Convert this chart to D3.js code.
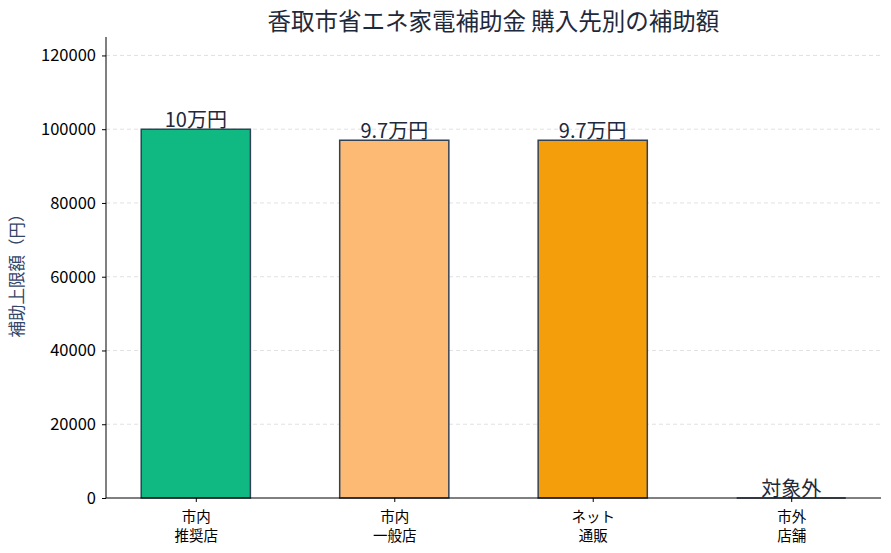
<!DOCTYPE html>
<html>
<head>
<meta charset="utf-8">
<script src="https://cdn.jsdelivr.net/npm/d3@7"></script>
<style>
  body { margin: 0; background: #fff; }
  text { font-family: "Noto Sans CJK JP", "Noto Sans", sans-serif; }
</style>
</head>
<body>
<div id="chart"></div>
<script>
// Data
const categories = [["市内", "推奨店"], ["市内", "一般店"], ["ネット", "通販"], ["市外", "店舗"]];
const amounts = [100000, 97000, 97000, 0];
const barLabels = ["10万円", "9.7万円", "9.7万円", "対象外"];
const barColors = ["#10b981", "#fdba74", "#f59e0b", "#94a3b8"];
const yTicks = [0, 20000, 40000, 60000, 80000, 100000, 120000];

const width = 891, height = 553;
const margin = {top: 37, left: 106, right: 10, bottom: 55};

const svg = d3.select("#chart").append("svg")
    .attr("width", width)
    .attr("height", height);

// scales
const barWidth = 0.55;
const pad = (categories.length - 1 + barWidth) * 0.05;
const xScale = d3.scaleLinear()
    .domain([-barWidth / 2 - pad, categories.length - 1 + barWidth / 2 + pad])
    .range([margin.left, width - margin.right]);

const yScale = d3.scaleLinear()
    .domain([0, 125000])
    .range([height - margin.bottom, margin.top]);

// grid
svg.append("g")
    .selectAll("line")
    .data(yTicks.slice(1))
    .enter().append("line")
    .attr("x1", margin.left)
    .attr("x2", width - margin.right)
    .attr("y1", d => yScale(d))
    .attr("y2", d => yScale(d))
    .attr("stroke", "#d9d9d9")
    .attr("stroke-width", 0.8)
    .attr("stroke-dasharray", "4,3");

// bars (drawn as paths so a zero bar still shows its outline)
const bw = xScale(barWidth) - xScale(0);
svg.append("g")
    .selectAll("path")
    .data(amounts)
    .enter().append("path")
    .attr("d", (d, i) => {
        const x0 = xScale(i) - bw / 2, y0 = yScale(d), y1 = yScale(0);
        return `M${x0},${y1}V${y0}H${x0 + bw}V${y1}Z`;
    })
    .attr("fill", (d, i) => barColors[i])
    .attr("stroke", "#334155")
    .attr("stroke-width", 1.5);

// bar labels
svg.append("g")
    .selectAll("text")
    .data(amounts)
    .enter().append("text")
    .attr("x", (d, i) => xScale(i))
    .attr("y", d => yScale(d) - 2)
    .attr("text-anchor", "middle")
    .attr("fill", "#1e293b")
    .style("font-size", "20px")
    .text((d, i) => barLabels[i]);

// y axis
const yAxisGroup = svg.append("g")
    .attr("transform", `translate(${margin.left}, 0)`)
    .call(d3.axisLeft(yScale).tickValues(yTicks).tickSize(4).tickPadding(6).tickFormat(d3.format("d")));
yAxisGroup.select(".domain").attr("d", `M0,${margin.top}V${height - margin.bottom}`).attr("stroke", "#000");
yAxisGroup.selectAll(".tick text")
    .style("font-size", "16.5px")
    .attr("fill", "#000");

// x axis
const xAxisGroup = svg.append("g")
    .attr("transform", `translate(0, ${height - margin.bottom})`)
    .call(d3.axisBottom(xScale).tickValues(d3.range(categories.length)).tickSize(4).tickFormat(""));
xAxisGroup.select(".domain").attr("d", `M${margin.left},0H${width - margin.right}`).attr("stroke", "#000");
xAxisGroup.selectAll(".tick").each(function(d) {
    const tick = d3.select(this);
    categories[d].forEach((line, j) => {
        tick.append("text")
            .attr("fill", "#000")
            .attr("text-anchor", "middle")
            .attr("x", 0)
            .attr("y", 24 + j * 19)
            .style("font-size", "14.5px")
            .text(line);
    });
});

// y label
svg.append("text")
    .attr("transform", `translate(23, ${(margin.top + height - margin.bottom) / 2 + 4}) rotate(-90)`)
    .attr("text-anchor", "middle")
    .attr("fill", "#334466")
    .style("font-size", "16.5px")
    .text("補助上限額（円）");

// title
svg.append("text")
    .attr("x", (margin.left + width - margin.right) / 2)
    .attr("y", 30)
    .attr("text-anchor", "middle")
    .attr("fill", "#1e293b")
    .style("font-size", "23.5px")
    .text("香取市省エネ家電補助金 購入先別の補助額");
</script>
</body>
</html>
